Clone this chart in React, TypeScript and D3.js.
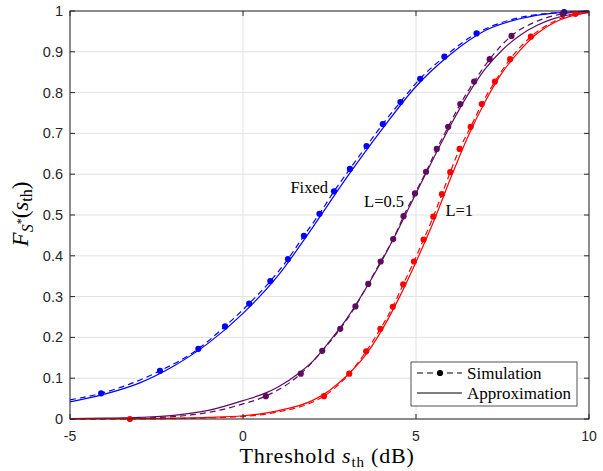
import React from "react";
import * as d3 from "d3";

type P = [number, number];

// ---------- data ----------
const X_TICKS = [-5, 0, 5, 10];
const Y_TICKS = [0, 0.1, 0.2, 0.3, 0.4, 0.5, 0.6, 0.7, 0.8, 0.9, 1];
const Y_TICK_LABELS = ["0", "0.1", "0.2", "0.3", "0.4", "0.5", "0.6", "0.7", "0.8", "0.9", "1"];

// Simulation markers (empirical CDF samples)
const fixedSimMarkers: P[] = [
  [-4.1, 0.063], [-2.4, 0.118], [-1.29, 0.172], [-0.52, 0.227], [0.18, 0.283], [0.79, 0.338],
  [1.3, 0.392], [1.76, 0.449], [2.21, 0.503], [2.63, 0.558], [3.09, 0.613], [3.57, 0.669],
  [4.04, 0.723], [4.55, 0.777], [5.12, 0.834], [5.82, 0.888], [6.75, 0.945], [9.28, 0.997],
];
const fixedSimExtra: P[] = [[-5, 0.047], [8, 0.984], [10, 1.0]];

const halfSimMarkers: P[] = [
  [0.66, 0.056], [1.67, 0.111], [2.29, 0.167], [2.81, 0.221], [3.25, 0.276], [3.62, 0.331],
  [3.98, 0.386], [4.34, 0.441], [4.64, 0.497], [4.97, 0.553], [5.29, 0.606], [5.6, 0.662],
  [5.93, 0.716], [6.28, 0.772], [6.68, 0.827], [7.13, 0.882], [7.76, 0.939], [9.24, 0.993],
];
const halfSimExtra: P[] = [[-5, 0.0], [-3, 0.002], [-2, 0.006], [-1, 0.016], [0, 0.037], [8.5, 0.975], [10, 0.999]];

const oneSimMarkers: P[] = [
  [-3.27, 0.0], [2.34, 0.056], [3.07, 0.111], [3.56, 0.166], [3.97, 0.221], [4.33, 0.275],
  [4.63, 0.33], [4.94, 0.386], [5.22, 0.44], [5.5, 0.496], [5.75, 0.551], [5.99, 0.605],
  [6.26, 0.662], [6.58, 0.716], [6.9, 0.772], [7.28, 0.827], [7.72, 0.882], [8.32, 0.937],
  [9.61, 0.993],
];
const oneSimExtra: P[] = [[-5, 0.0], [-1, 0.003], [0, 0.006], [1, 0.017], [2, 0.041], [9, 0.975], [10, 0.998]];

// Approximation curves
const fixedApprox: P[] = [
  [-5, 0.042], [-4, 0.061], [-3, 0.088], [-2, 0.13], [-1, 0.186], [0, 0.259], [1, 0.35],
  [2, 0.468], [3, 0.592], [4, 0.708], [5, 0.815], [6, 0.894], [7, 0.952], [8, 0.981],
  [9, 0.995], [10, 0.999],
];
const halfApprox: P[] = [
  [-5, 0.001], [-4, 0.002], [-3, 0.004], [-2, 0.009], [-1, 0.021], [0, 0.045], [0.66, 0.064],
  [1, 0.078], [1.67, 0.116], [2, 0.14], [2.5, 0.19], [3, 0.246], [3.5, 0.313], [4, 0.386],
  [4.5, 0.467], [5, 0.553], [5.5, 0.638], [6, 0.72], [6.5, 0.795], [7, 0.858], [7.5, 0.905],
  [8, 0.94], [8.5, 0.965], [9, 0.982], [9.5, 0.992], [10, 0.997],
];
const oneApprox: P[] = [
  [-5, 0.0], [-4, 0.001], [-3, 0.001], [-2, 0.002], [-1, 0.004], [0, 0.008], [1, 0.02],
  [2, 0.045], [2.5, 0.07], [3, 0.106], [3.5, 0.152], [4, 0.216], [4.5, 0.295], [5, 0.385],
  [5.5, 0.482], [6, 0.59], [6.5, 0.692], [7, 0.778], [7.5, 0.85], [8, 0.903], [8.5, 0.945],
  [9, 0.972], [9.5, 0.988], [10, 0.996],
];

const SERIES = [
  { name: "Fixed", color: "#0000ff", markers: fixedSimMarkers, extra: fixedSimExtra, approx: fixedApprox },
  { name: "L=0.5", color: "#5e0c5e", markers: halfSimMarkers, extra: halfSimExtra, approx: halfApprox },
  { name: "L=1", color: "#ff0000", markers: oneSimMarkers, extra: oneSimExtra, approx: oneApprox },
];

const LABELS = [
  { text: "Fixed", x: 1.37, y: 0.555 },
  { text: "L=0.5", x: 3.5, y: 0.52 },
  { text: "L=1", x: 5.85, y: 0.497 },
];

// ---------- layout ----------
const W = 603;
const H = 471;
const M = { left: 70, right: 589, top: 11, bottom: 419 };
const AX = "#262626";
const GRID = "#e2e2e2";
const SANS = "'Liberation Sans', Arial, sans-serif";
const SERIF = "'Liberation Serif', 'Times New Roman', serif";

export default function App() {
  const x = d3.scaleLinear().domain([-5, 10]).range([M.left, M.right]);
  const y = d3.scaleLinear().domain([0, 1]).range([M.bottom, M.top]);
  const line = d3
    .line<P>()
    .x((d) => x(d[0]))
    .y((d) => y(d[1]))
    .curve(d3.curveMonotoneX);

  const tick = 5;
  const legend = { x0: 411, y0: 362, x1: 577, y1: 406 };

  return (
    <svg
      width={W}
      height={H}
      viewBox={`0 0 ${W} ${H}`}
      style={{ position: "absolute", left: 0, top: 0, background: "#fff" }}
    >
      <rect x={0} y={0} width={W} height={H} fill="#fff" />
      {/* grid */}
      {X_TICKS.map((t) => (
        <line key={"gx" + t} x1={x(t)} x2={x(t)} y1={M.top} y2={M.bottom} stroke={GRID} strokeWidth={1} />
      ))}
      {Y_TICKS.map((t) => (
        <line key={"gy" + t} x1={M.left} x2={M.right} y1={y(t)} y2={y(t)} stroke={GRID} strokeWidth={1} />
      ))}

      <defs>
        <clipPath id="plotclip">
          <rect x={M.left} y={M.top - 4} width={M.right - M.left + 4} height={M.bottom - M.top + 8} />
        </clipPath>
      </defs>

      {/* curves */}
      <g clipPath="url(#plotclip)">
        {SERIES.map((s) => {
          const sim = [...s.markers, ...s.extra].sort((a, b) => a[0] - b[0]);
          return (
            <g key={s.name}>
              <path d={line(s.approx) || ""} fill="none" stroke={s.color} strokeWidth={1.2} />
              <path d={line(sim) || ""} fill="none" stroke={s.color} strokeWidth={1.2} strokeDasharray="6,4" />
              {s.markers.map((p, i) => (
                <circle key={i} cx={x(p[0])} cy={y(p[1])} r={3.1} fill={s.color} />
              ))}
            </g>
          );
        })}
      </g>

      {/* axes box */}
      <rect
        x={M.left}
        y={M.top}
        width={M.right - M.left}
        height={M.bottom - M.top}
        fill="none"
        stroke={AX}
        strokeWidth={1}
      />
      {X_TICKS.map((t) => (
        <g key={"tx" + t}>
          <line x1={x(t)} x2={x(t)} y1={M.bottom} y2={M.bottom - tick} stroke={AX} />
          <line x1={x(t)} x2={x(t)} y1={M.top} y2={M.top + tick} stroke={AX} />
          <text x={x(t)} y={440.5} textAnchor="middle" fontFamily={SANS} fontSize={14} fill={AX}>
            {t}
          </text>
        </g>
      ))}
      {Y_TICKS.map((t, i) => (
        <g key={"ty" + t}>
          <line x1={M.left} x2={M.left + tick} y1={y(t)} y2={y(t)} stroke={AX} />
          <line x1={M.right} x2={M.right - tick} y1={y(t)} y2={y(t)} stroke={AX} />
          <text x={63} y={y(t) + 5} textAnchor="end" fontFamily={SANS} fontSize={14.5} fill={AX}>
            {Y_TICK_LABELS[i]}
          </text>
        </g>
      ))}

      {/* curve labels */}
      {LABELS.map((l) => (
        <text key={l.text} x={x(l.x)} y={y(l.y)} fontFamily={SERIF} fontSize={16.5} fill="#000">
          {l.text}
        </text>
      ))}

      {/* x label */}
      <text
        x={327}
        y={463}
        textAnchor="middle"
        fontFamily={SERIF}
        fontSize={22}
        letterSpacing={0.8}
        fill="#000"
      >
        <tspan>Threshold </tspan>
        <tspan fontStyle="italic">s</tspan>
        <tspan fontSize={15} dy={4}>th</tspan>
        <tspan dy={-4}> (dB)</tspan>
      </text>

      {/* y label */}
      <text
        transform="translate(28,214) rotate(-90)"
        textAnchor="middle"
        fontFamily={SERIF}
        fontSize={23}
        fill="#000"
      >
        <tspan fontStyle="italic">F</tspan>
        <tspan fontStyle="italic" fontSize={16} dy={5}>S</tspan>
        <tspan fontSize={12} dy={-8}>*</tspan>
        <tspan dy={3}>(</tspan>
        <tspan fontStyle="italic">s</tspan>
        <tspan fontSize={16} dy={4}>th</tspan>
        <tspan dy={-4}>)</tspan>
      </text>

      {/* legend */}
      <rect
        x={legend.x0}
        y={legend.y0}
        width={legend.x1 - legend.x0}
        height={legend.y1 - legend.y0}
        fill="#fff"
        stroke={AX}
        strokeWidth={0.8}
      />
      <line x1={417} x2={462} y1={373} y2={373} stroke="#000" strokeWidth={1.2} strokeDasharray="6,4" />
      <circle cx={440} cy={373} r={3.1} fill="#000" />
      <text x={467} y={379} fontFamily={SERIF} fontSize={17} fill="#000">Simulation</text>
      <line x1={417} x2={462} y1={393} y2={393} stroke="#000" strokeWidth={1.2} />
      <text x={467} y={399} fontFamily={SERIF} fontSize={17} fill="#000">Approximation</text>
    </svg>
  );
}
